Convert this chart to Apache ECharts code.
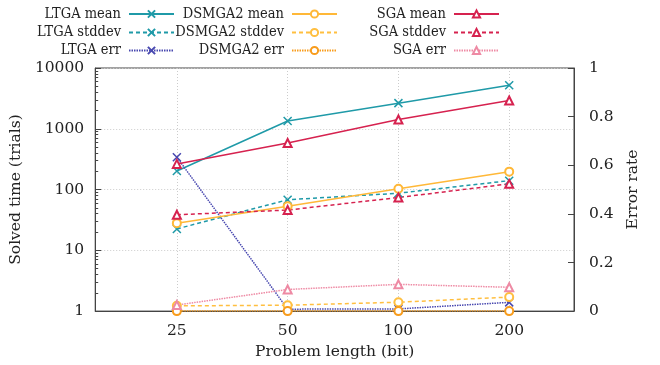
<!DOCTYPE html>
<html><head><meta charset="utf-8">
<script src="https://cdn.jsdelivr.net/npm/echarts@6/dist/echarts.min.js"></script>
<style>html,body{margin:0;padding:0;background:#fff}#c{width:660px;height:365px}</style>
</head><body><div id="c"></div>
<script>
const lengths = [25, 50, 100, 200];
const xTickLabels = ['25', '50', '100', '200'];
const leftTicks = [1, 10, 100, 1000, 10000];
const rightTicks = [0, 0.2, 0.4, 0.6, 0.8, 1];

const ltgaMean   = [202, 1340, 2640, 5200];
const ltgaStd    = [22.5, 68, 87, 140];
const ltgaErr    = [0.633, 0.008, 0.009, 0.036];
const dsmgaMean  = [28, 53, 103, 197];
const dsmgaStd   = [1.22, 1.25, 1.4, 1.7];
const dsmgaErr   = [0, 0, 0, 0];
const sgaMean    = [264, 583, 1420, 2920];
const sgaStd     = [38.5, 46, 74, 124];
const sgaErr     = [0.025, 0.089, 0.11, 0.098];

const FONT = 'DejaVu Serif';
const LFONT = 'DejaVu Serif Condensed';
const CROSS = 'path://M0,0L10,10M10,0L0,10';

function pts(arr) { return arr.map((v, i) => [lengths[i], v]); }

function mk(name, data, color, symbol, dash, yIdx, symSize, bw) {
  return {
    name, type: 'line', data: pts(data), yAxisIndex: yIdx,
    symbol, symbolSize: symSize, showSymbol: true,
    lineStyle: { color, width: 1.5, type: dash },
    itemStyle: { color, borderColor: color, borderWidth: bw || 1.5 },
    emphasis: { disabled: true }, animation: false
  };
}

const C = {
  ltga: '#1f9aa8', ltgaErr: '#4848b0',
  dsm: '#ffb838', dsmStd: '#ffbf40', dsmErr: '#f89c1c',
  sga: '#d6224f', sgaErr: '#ee8aa4'
};
const DASH = [4, 3], DOT = [1.5, 1];

const series = [
  mk('LTGA mean', ltgaMean, C.ltga, CROSS, 'solid', 0, 8),
  mk('LTGA stddev', ltgaStd, C.ltga, CROSS, DASH, 0, 8),
  mk('LTGA err', ltgaErr, C.ltgaErr, CROSS, DOT, 2, 8),
  mk('DSMGA2 mean', dsmgaMean, C.dsm, 'emptyCircle', 'solid', 0, 8),
  mk('DSMGA2 stddev', dsmgaStd, C.dsmStd, 'emptyCircle', DASH, 0, 8),
  mk('DSMGA2 err', dsmgaErr, C.dsmErr, 'emptyCircle', DOT, 2, 8),
  mk('SGA mean', sgaMean, C.sga, 'emptyTriangle', 'solid', 0, 8, 2),
  mk('SGA stddev', sgaStd, C.sga, 'emptyTriangle', DASH, 0, 8, 2),
  mk('SGA err', sgaErr, C.sgaErr, 'emptyTriangle', DOT, 2, 8, 1.5)
];

// legend layout: 3 columns, right-aligned text, icon on the right
const legCols = [485, 322, 160];
const legRows = [6.5, 25, 43];
const legends = series.map((s, i) => ({
  data: [s.name], align: 'right', right: legCols[Math.floor(i / 3)], top: legRows[i % 3],
  padding: 0, itemGap: 0, itemWidth: 45, itemHeight: 9, selectedMode: false,
  textStyle: { fontFamily: LFONT, fontSize: 14.5, color: '#222', padding: [0, 3, 0, 0] }
}));

const axisLine = { show: true, lineStyle: { color: '#444', width: 1 } };
const labelStyle = { fontFamily: FONT, fontSize: 15.5, color: '#222' };

const minorVals = [];
for (let d = 1; d < 10000; d *= 10) for (let k = 2; k <= 9; k++) minorVals.push(d * k);

const option = {
  animation: false,
  legend: legends,
  grid: { left: 92, right: 86, top: 68, bottom: 53, show: true, borderColor: '#444', borderWidth: 1, backgroundColor: 'transparent' },
  xAxis: {
    type: 'log', logBase: 2, min: 15, max: 300,
    name: 'Problem length (bit)', nameLocation: 'middle', nameGap: 26,
    nameTextStyle: labelStyle,
    axisLine, axisTick: { show: false, customValues: lengths },
    axisLabel: Object.assign({ customValues: lengths, margin: 12, formatter: v => xTickLabels[lengths.indexOf(v)] }, labelStyle),
    splitLine: { show: true, lineStyle: { color: '#cccccc', type: [1, 2], width: 1 } }
  },
  yAxis: [
    {
      type: 'log', logBase: 10, min: 1, max: 10000, position: 'left',
      name: 'Solved time (trials)', nameLocation: 'middle', nameGap: 52, nameRotate: 90,
      nameTextStyle: labelStyle,
      axisLine, axisTick: { show: true, inside: true, length: 6, customValues: leftTicks, lineStyle: { color: '#444' } },
      axisLabel: Object.assign({ customValues: leftTicks, margin: 11, formatter: v => String(Math.round(v)) }, labelStyle),
      splitLine: { show: true, lineStyle: { color: '#cccccc', type: [1, 2], width: 1 } }
    },
    {
      type: 'log', logBase: 10, min: 1, max: 10000, position: 'left',
      axisLine: { show: false },
      axisTick: { show: true, inside: true, length: 3, customValues: minorVals, lineStyle: { color: '#444' } },
      axisLabel: { show: false }, splitLine: { show: false }
    },
    {
      type: 'value', min: 0, max: 1, interval: 0.2, position: 'right',
      name: 'Error rate', nameLocation: 'middle', nameGap: 50, nameRotate: 90,
      nameTextStyle: labelStyle,
      axisLine, axisTick: { show: true, inside: true, length: 6, lineStyle: { color: '#444' } },
      axisLabel: Object.assign({ margin: 15, formatter: v => String(+v.toFixed(1)) }, labelStyle),
      splitLine: { show: false }
    }
  ],
  series
};

const chart = echarts.init(document.getElementById('c'), null, { renderer: 'canvas' });
chart.setOption(option);
</script>
</body></html>
